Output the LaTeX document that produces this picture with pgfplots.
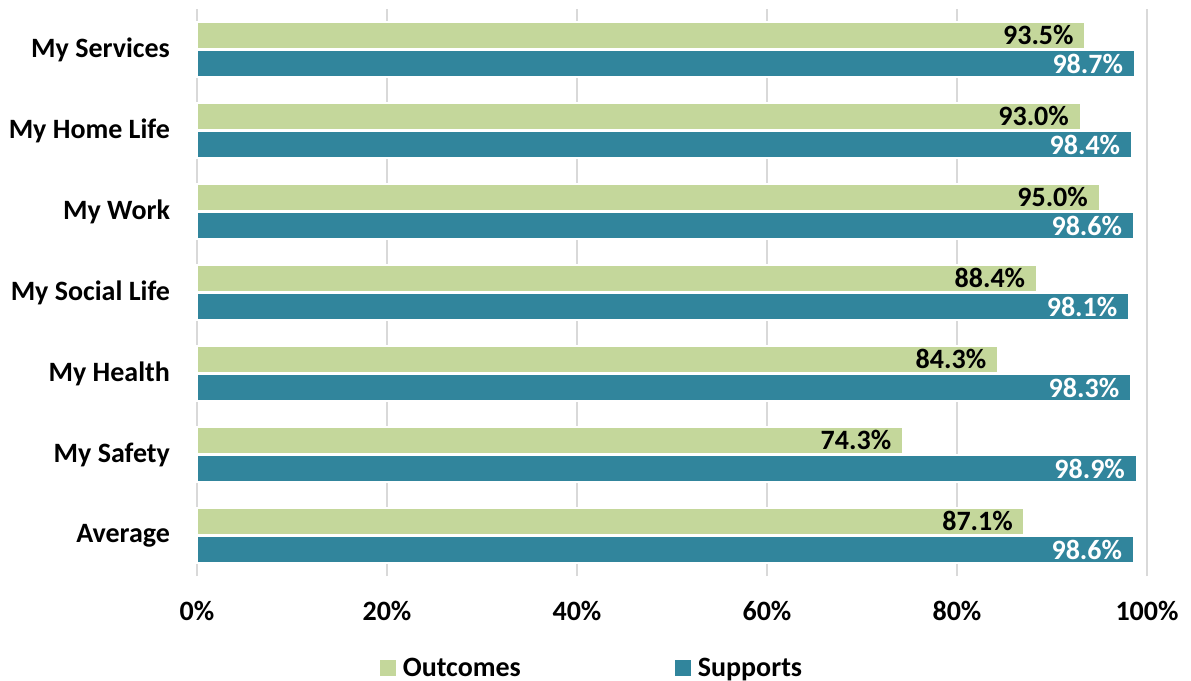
\documentclass[border=0pt]{standalone}
\usepackage{pgfplots}
\pgfplotsset{compat=1.18}
\usepackage{fontspec}
\setmainfont{Carlito}
\definecolor{outc}{HTML}{C4D79B}
\definecolor{supp}{HTML}{31859C}
\definecolor{gridc}{HTML}{D9D9D9}
\begin{document}
\begin{tikzpicture}
\useasboundingbox (-98.5pt,-52.5pt) rectangle (497pt,288pt);
\begin{axis}[
  scale only axis,
  width=475pt, height=283.5pt,
  xbar,
  xmin=0, xmax=100,
  ymin=-0.5, ymax=6.5,
  bar width=0.34,
  axis line style={draw=none},
  major tick length=0pt,
  xmajorgrids,
  grid style={gridc, line width=0.8pt},
  xtick={0,20,40,60,80,100},
  xticklabels={0\%,20\%,40\%,60\%,80\%,100\%},
  ytick={0,1,2,3,4,5,6},
  yticklabels={Average,My Safety,My Health,My Social Life,My Work,My Home Life,My Services},
  ticklabel style={font=\fontsize{14}{16}\selectfont\bfseries},
  xticklabel style={yshift=-9pt},
  yticklabel style={xshift=-10pt},
  /pgf/number format/assume math mode=true,
  point meta=x,
  nodes near coords={\pgfmathprintnumber[fixed,fixed zerofill,precision=1]{\pgfplotspointmeta}\%},
  every node near coord/.append style={anchor=east, xshift=-2pt, font=\fontsize{14}{16}\selectfont\bfseries},
  legend columns=2,
  legend style={draw=none, at={(axis description cs:0.4137,-0.163)}, anchor=center,
    font=\fontsize{14}{16}\selectfont\bfseries,
    /tikz/every even column/.append style={column sep=72pt}},
  legend image code/.code={\path (0pt,0pt);},
  clip=false,
]
\addplot[fill=outc, draw=white, line width=1pt, bar shift=0.175,
  every node near coord/.append style={text=black}]
  coordinates {(87.1,0) (74.3,1) (84.3,2) (88.4,3) (95.0,4) (93.0,5) (93.5,6)};
\addlegendentry{{\color{outc}\rule{8pt}{8pt}}\hspace{3.5pt}Outcomes}
\addplot[fill=supp, draw=white, line width=1pt, bar shift=-0.175,
  every node near coord/.append style={text=white}]
  coordinates {(98.6,0) (98.9,1) (98.3,2) (98.1,3) (98.6,4) (98.4,5) (98.7,6)};
\addlegendentry{{\color{supp}\rule{8pt}{8pt}}\hspace{3.5pt}Supports}
\end{axis}
\end{tikzpicture}
\end{document}
